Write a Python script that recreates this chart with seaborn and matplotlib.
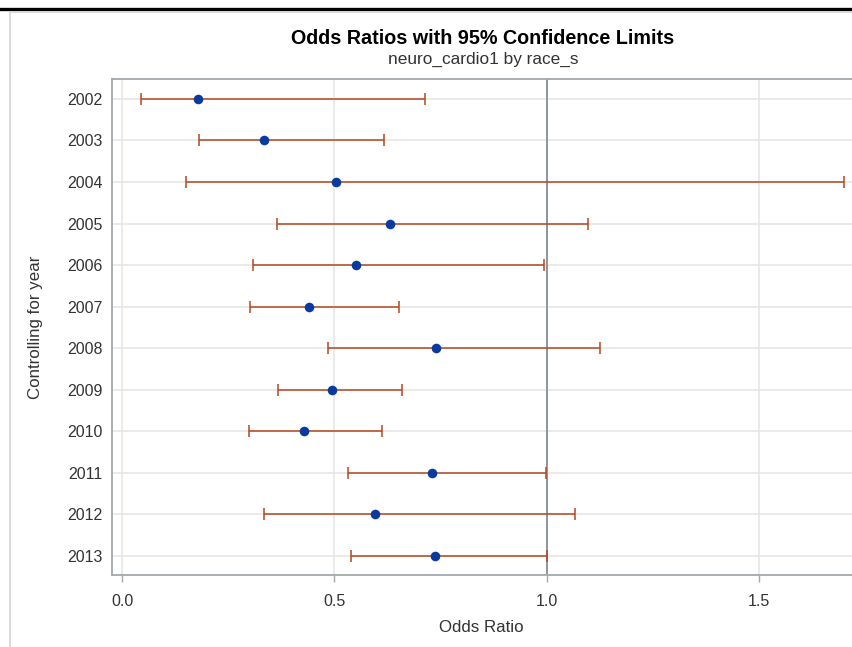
import numpy as np
import pandas as pd
import matplotlib
matplotlib.use("Agg")
import matplotlib.pyplot as plt
import seaborn as sns
from matplotlib.lines import Line2D

years = ["2002", "2003", "2004", "2005", "2006", "2007",
         "2008", "2009", "2010", "2011", "2012", "2013"]
odds_ratio = [0.178, 0.333, 0.504, 0.631, 0.551, 0.441,
              0.739, 0.495, 0.428, 0.729, 0.596, 0.736]
lower_cl = [0.045, 0.181, 0.150, 0.365, 0.308, 0.302,
            0.485, 0.368, 0.298, 0.533, 0.333, 0.539]
upper_cl = [0.713, 0.616, 1.699, 1.097, 0.993, 0.653,
            1.125, 0.660, 0.613, 0.999, 1.066, 1.001]
x_ticks = [0.0, 0.5, 1.0, 1.5]
x_tick_labels = ["0.0", "0.5", "1.0", "1.5"]

title = "Odds Ratios with 95% Confidence Limits"
subtitle = "neuro_cardio1 by race_s"
x_label = "Odds Ratio"
y_label = "Controlling for year"

df = pd.DataFrame({"year": years, "or": odds_ratio,
                   "lo": lower_cl, "hi": upper_cl})

sns.set_theme(style="white")
plt.rcParams["font.family"] = ["Liberation Sans", "DejaVu Sans"]

W, H = 853, 647
fig = plt.figure(figsize=(W / 100, H / 100), dpi=100)

# axes geometry (pixels)
ax_l, ax_r, ax_t, ax_b = 112, 852, 79, 575.3
ax = fig.add_axes([ax_l / W, 1 - ax_b / H, (ax_r - ax_l) / W, (ax_b - ax_t) / H])

err_color = "#b3481f"
pt_color = "#0a3a9e"
grid_color = "#e6e6e6"
frame_color = "#a3a8ad"
text_color = "#333333"

ypos = np.arange(len(years))

# grid lines
for xt in x_ticks:
    ax.axvline(xt, color=grid_color, lw=1.2, zorder=0)
for yp in ypos:
    ax.axhline(yp, color=grid_color, lw=1.2, zorder=0)

# reference line at 1
ax.axvline(1.0, color="#8d969e", lw=1.4, zorder=1)

# error bars
or_arr = df["or"].to_numpy()
xerr = np.vstack([or_arr - df["lo"].to_numpy(), df["hi"].to_numpy() - or_arr])
ax.errorbar(or_arr, ypos, xerr=xerr, fmt="none", ecolor=err_color,
            elinewidth=1.1, capsize=4.6, capthick=1.1, zorder=2)

# points
sns.scatterplot(x=or_arr, y=ypos, ax=ax, color=pt_color, s=48,
                edgecolor=pt_color, linewidth=0, zorder=3)

ax.set_xlim(-0.024, (ax_r - 122.3) / 424.5)
ax.set_ylim(11.47, -0.48)

ax.set_yticks(ypos)
ax.set_yticklabels(years)
ax.set_xticks(x_ticks)
ax.set_xticklabels(x_tick_labels)

ax.tick_params(axis="y", length=0, pad=6.5, labelsize=11.5, labelcolor=text_color)
ax.tick_params(axis="x", length=5, width=1, color=frame_color, pad=8.5,
               labelsize=11.5, labelcolor=text_color, bottom=True)

for side in ["left", "bottom", "top"]:
    ax.spines[side].set_color(frame_color)
    ax.spines[side].set_linewidth(1.3)
ax.spines["right"].set_visible(False)

ax.set_xlabel(x_label, fontsize=12.2, color=text_color, va="center")
ax.set_ylabel(y_label, fontsize=12.2, color=text_color, va="center")
ax.xaxis.set_label_coords((481 - ax_l) / (ax_r - ax_l), -(628 - ax_b) / (ax_b - ax_t))
ax.yaxis.set_label_coords((35 - ax_l) / (ax_r - ax_l), (ax_b - 327) / (ax_b - ax_t))

# titles
fig.text(483 / W, 1 - 38 / H, title, ha="center", va="center",
         fontsize=14.2, fontweight="bold", color="#000000")
fig.text(483 / W, 1 - 59 / H, subtitle, ha="center", va="center",
         fontsize=12.4, color=text_color)

# outer page decoration
fig.add_artist(Line2D([0, 1], [1 - 9 / H, 1 - 9 / H], color="black", lw=2.4,
                      transform=fig.transFigure))
fig.add_artist(Line2D([10 / W, 10 / W], [0, 1 - 12 / H], color="#d4d4d4", lw=1.2,
                      transform=fig.transFigure))
fig.add_artist(Line2D([10 / W, 1], [1 - 12 / H, 1 - 12 / H], color="#d4d4d4", lw=1.2,
                      transform=fig.transFigure))

fig.savefig("out.png", dpi=100)
